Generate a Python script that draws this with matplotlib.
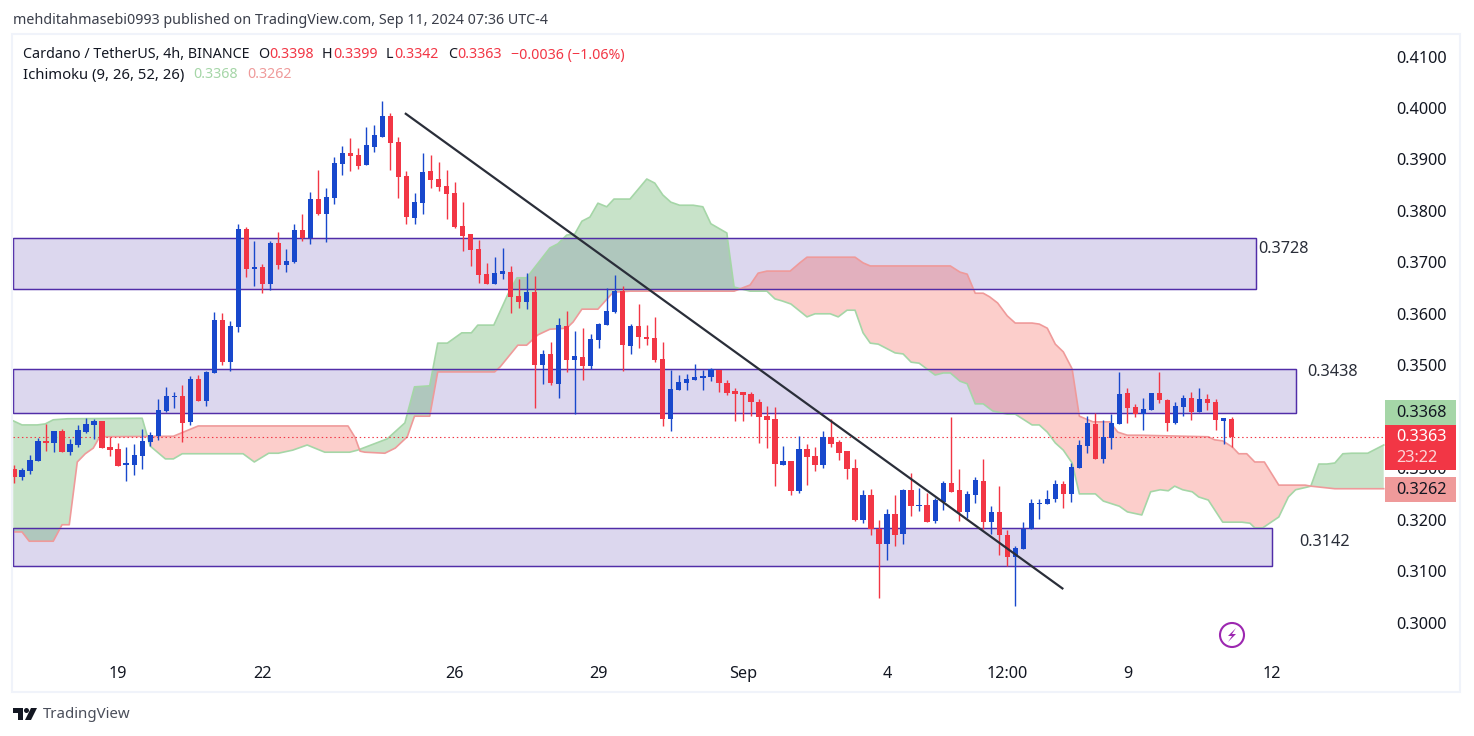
import numpy as np
import matplotlib
matplotlib.use('Agg')
import matplotlib.pyplot as plt
from matplotlib.patches import Polygon, Rectangle, Circle

plt.rcParams['font.family'] = ['Noto Sans', 'DejaVu Sans']

# 4h candles
opens = [.3298, .3283, .3295, .3314, .3353, .3349, .3372, .3331, .3345, .3370,
         .3384, .3392, .3341, .3337, .3306, .3306, .3324, .3351, .3362, .3411,
         .3438, .3440, .3390, .3473, .3431, .3485, .3588, .3506, .3574, .3765,
         .3687, .3691, .3658, .3738, .3695, .3701, .3763, .3747, .3823, .3794,
         .3825, .3891, .3912, .3909, .3889, .3924, .3944, .3984, .3934, .3868,
         .3786, .3815, .3878, .3862, .3848, .3835, .3771, .3755, .3726, .3677,
         .3658, .3677, .3681, .3635, .3623, .3642, .3500, .3522, .3464, .3576,
         .3510, .3516, .3498, .3549, .3578, .3603, .3644, .3537, .3576, .3555,
         .3553, .3512, .3395, .3452, .3466, .3471, .3475, .3477, .3491, .3466,
         .3450, .3448, .3444, .3429, .3401, .3396, .3306, .3314, .3256, .3337,
         .3324, .3306, .3360, .3351, .3333, .3300, .3199, .3248, .3182, .3153,
         .3211, .3172, .3258, .3226, .3228, .3197, .3234, .3271, .3258, .3215,
         .3248, .3275, .3195, .3215, .3170, .3127, .3143, .3182, .3230, .3230,
         .3240, .3269, .3250, .3300, .3343, .3386, .3318, .3359, .3386, .3446,
         .3419, .3405, .3413, .3446, .3432, .3388, .3419, .3436, .3409, .3434,
         .3429, .3392, .3396]
closes = [.3283, .3296, .3316, .3353, .3349, .3372, .3331, .3347, .3374, .3386,
          .3392, .3339, .3335, .3304, .3310, .3326, .3353, .3364, .3413, .3440,
          .3440, .3388, .3473, .3431, .3487, .3588, .3506, .3576, .3765, .3687,
          .3691, .3658, .3738, .3695, .3703, .3763, .3747, .3823, .3794, .3827,
          .3893, .3912, .3907, .3887, .3928, .3948, .3984, .3932, .3866, .3788,
          .3817, .3876, .3860, .3846, .3833, .3769, .3751, .3724, .3675, .3658,
          .3679, .3683, .3633, .3623, .3642, .3500, .3522, .3465, .3578, .3510,
          .3518, .3498, .3551, .3580, .3605, .3644, .3539, .3576, .3555, .3551,
          .3510, .3395, .3454, .3467, .3473, .3477, .3479, .3493, .3466, .3446,
          .3444, .3442, .3429, .3399, .3394, .3308, .3314, .3256, .3337, .3322,
          .3306, .3360, .3347, .3329, .3298, .3199, .3248, .3182, .3153, .3211,
          .3170, .3258, .3226, .3228, .3195, .3238, .3271, .3254, .3215, .3250,
          .3277, .3195, .3215, .3170, .3127, .3145, .3182, .3232, .3232, .3240,
          .3269, .3250, .3302, .3345, .3388, .3318, .3360, .3388, .3444, .3417,
          .3405, .3415, .3446, .3432, .3388, .3421, .3436, .3409, .3434, .3427,
          .3394, .3397, .3360]
highs = [.3306, .3300, .3326, .3359, .3386, .3372, .3376, .3357, .3384, .3397,
         .3395, .3392, .3361, .3349, .3341, .3347, .3376, .3370, .3434, .3458,
         .3448, .3462, .3479, .3481, .3489, .3603, .3602, .3586, .3774, .3769,
         .3741, .3697, .3741, .3759, .3726, .3774, .3794, .3837, .3880, .3845,
         .3905, .3926, .3942, .3922, .3963, .3967, .4014, .3990, .3944, .3878,
         .3835, .3912, .3909, .3895, .3880, .3856, .3817, .3755, .3743, .3699,
         .3710, .3728, .3693, .3668, .3679, .3673, .3530, .3545, .3592, .3605,
         .3567, .3572, .3561, .3582, .3650, .3675, .3654, .3580, .3619, .3578,
         .3594, .3545, .3491, .3481, .3483, .3502, .3491, .3495, .3491, .3471,
         .3456, .3448, .3448, .3434, .3421, .3419, .3343, .3314, .3362, .3347,
         .3341, .3372, .3396, .3355, .3333, .3318, .3258, .3259, .3199, .3221,
         .3248, .3259, .3291, .3261, .3252, .3242, .3275, .3399, .3298, .3256,
         .3283, .3318, .3226, .3265, .3180, .3149, .3195, .3240, .3240, .3258,
         .3277, .3275, .3310, .3355, .3401, .3407, .3394, .3405, .3487, .3456,
         .3425, .3436, .3446, .3487, .3434, .3429, .3442, .3448, .3456, .3444,
         .3434, .3397, .3399]
lows = [.3272, .3277, .3289, .3314, .3333, .3331, .3331, .3326, .3341, .3368,
        .3357, .3339, .3324, .3304, .3275, .3287, .3298, .3343, .3355, .3409,
        .3417, .3351, .3384, .3431, .3421, .3485, .3500, .3489, .3565, .3672,
        .3654, .3640, .3646, .3687, .3681, .3699, .3741, .3736, .3792, .3740,
        .3813, .3870, .3878, .3881, .3889, .3915, .3944, .3880, .3825, .3774,
        .3774, .3794, .3845, .3839, .3784, .3767, .3722, .3693, .3660, .3658,
        .3658, .3668, .3602, .3611, .3609, .3417, .3464, .3462, .3436, .3487,
        .3405, .3471, .3493, .3534, .3578, .3602, .3489, .3522, .3534, .3539,
        .3506, .3382, .3372, .3452, .3452, .3471, .3452, .3469, .3448, .3442,
        .3392, .3392, .3401, .3349, .3339, .3265, .3306, .3248, .3252, .3267,
        .3294, .3300, .3341, .3316, .3279, .3197, .3193, .3170, .3048, .3121,
        .3149, .3153, .3207, .3217, .3195, .3193, .3219, .3254, .3197, .3203,
        .3232, .3182, .3172, .3131, .3110, .3032, .3143, .3182, .3201, .3230,
        .3234, .3223, .3234, .3300, .3329, .3318, .3310, .3337, .3386, .3388,
        .3399, .3374, .3413, .3427, .3372, .3386, .3401, .3394, .3409, .3413,
        .3374, .3347, .3342]

# ichimoku span A, vertices of the line (bar index, price)
span_a_idx = [-0.1, 1.0, 2.9, 3.9, 4.9, 6.7, 16.0, 17.0, 18.9, 19.9, 21.0, 28.6, 30.0, 31.8, 33.0, 34.8, 36.6,
              38.8, 41.9, 42.9, 46.6, 48.8, 50.0, 51.9, 52.9, 54.1, 55.9, 57.1, 57.9, 59.9, 61.9, 62.8,
              64.0, 66.9, 67.9, 69.0, 70.0, 70.9, 71.9, 72.9, 74.0, 74.9, 76.9, 79.0, 80.0, 81.0, 82.0,
              83.1, 84.8, 86.0, 87.0, 89.0, 89.1, 89.9, 91.9, 94.0, 95.0, 95.9, 97.0, 99.0, 100.0, 101.9,
              102.9, 104.0, 105.0, 106.0, 106.9, 107.9, 110.0, 111.0, 112.0, 113.0, 115.0, 116.0, 116.9,
              118.1, 119.0, 120.0, 121.0, 122.2, 124.0, 125.0, 127.1, 128.0, 129.0, 130.0, 131.0, 132.1,
              133.0, 135.0, 136.0, 138.0, 139.0, 140.8, 141.9, 143.1, 144.1, 144.9, 145.9, 147.1, 147.9,
              149.1, 150.9, 153.3, 154.3, 154.9, 155.9, 157.9, 159.1, 160.0, 161.4, 161.9, 162.9, 163.9,
              164.9, 165.9, 167.0, 169.0, 171.0]
span_a = [.3392, .3384, .3384, .3386, .3394, .3396, .3397, .3343, .3318, .3318, .3328, .3328, .3312, .3329, .3329, .3335, .3345,
          .3331, .3331, .3335, .3357, .3388, .3458, .3460, .3543, .3543, .3563, .3563, .3578, .3578, .3646, .3670,
          .3670, .3728, .3736, .3753, .3755, .3780, .3788, .3815, .3808, .3823, .3823, .3862, .3854, .3831, .3817,
          .3811, .3811, .3808, .3775, .3757, .3743, .3652, .3644, .3644, .3629, .3625, .3619, .3594, .3600, .3600,
          .3594, .3607, .3607, .3563, .3543, .3541, .3524, .3522, .3506, .3504, .3481, .3485, .3485,
          .3469, .3464, .3425, .3425, .3411, .3405, .3405, .3384, .3384, .3370, .3349, .3335, .3310,
          .3250, .3250, .3236, .3226, .3215, .3209, .3254, .3258, .3256, .3265, .3258, .3254, .3244,
          .3238, .3195, .3195, .3193, .3184, .3184, .3205, .3244, .3258, .3263, .3265, .3308, .3308,
          .3310, .3328, .3329, .3329, .3345]

# span B
span_b_idx = [-0.1, 1.0, 1.9, 4.9, 6.0, 6.9, 7.9, 8.9, 9.9, 10.7, 19.9, 23.0, 41.7, 42.6, 43.2, 43.8, 46.3, 47.6, 49.1,
              50.0, 51.9, 52.9, 60.0, 60.7, 62.9, 64.0, 65.4, 66.9, 69.0, 69.8, 70.9, 72.9, 74.8, 76.9, 89.9,
              91.9, 92.9, 94.0, 96.9, 98.1, 99.0, 105.0, 106.0, 106.9, 116.9, 118.1, 119.0, 120.0, 121.0,
              121.8, 122.8, 124.0, 125.0, 127.1, 128.0, 129.0, 130.0, 131.0, 132.1, 133.0, 134.7, 136.8,
              137.8, 139.0, 140.6, 149.1, 149.9, 150.9, 152.1, 152.9, 153.9, 154.9, 156.1, 157.9, 161.2,
              161.9, 164.9, 171.0]
span_b = [.3176, .3176, .3158, .3158, .3190, .3190, .3312, .3328, .3339, .3361, .3362, .3382, .3382, .3359, .3333, .3331, .3329, .3339, .3361,
          .3401, .3401, .3487, .3487, .3497, .3539, .3539, .3559, .3570, .3572, .3584, .3609, .3609, .3642, .3644, .3644,
          .3656, .3679, .3683, .3683, .3699, .3710, .3710, .3699, .3693, .3693, .3681, .3677, .3640, .3640,
          .3633, .3621, .3596, .3582, .3582, .3580, .3572, .3541, .3526, .3493, .3401, .3390, .3390,
          .3370, .3364, .3364, .3361, .3355, .3353, .3341, .3328, .3328, .3312, .3312, .3267, .3267,
          .3265, .3260, .3260]

# support / resistance boxes: low, high, last bar, label
zone_lows = [.3649, .3408, .3109]
zone_highs = [.3747, .3492, .3184]
zone_ends = [155.0, 160.0, 157.0]
zone_labels = ['0.3728', '0.3438', '0.3142']

trend_idx = [48.8, 131.0]
trend_price = [.3990, .3065]

day_ticks = [13, 31, 55, 73, 91, 109, 124, 139, 157]
day_labels = ['19', '22', '26', '29', 'Sep', '4', '12:00', '9', '12']
# 0.34 sits behind the price tags
price_ticks = [.30, .31, .32, .33, .35, .36, .37, .38, .39, .40, .41]

UP = '#1848cc'
DOWN = '#f23645'
TEXT = '#131722'

fig = plt.figure(figsize=(14.74, 7.36), dpi=100)
W, H = 1474, 736
# chart pane, bar 0 is at x=14 and 0.40 at y=108 in the image
ax = fig.add_axes([13 / W, (H - 691) / H, 1447 / W, 656 / H])
ax.set_xlim((13 - 14) / 8.01, (1460 - 14) / 8.01)
ax.set_ylim(0.4 - (691 - 108) / 5145, 0.4 + (108 - 35) / 5145)

# zones
for lo, hi, end in zip(zone_lows, zone_highs, zone_ends):
    ax.add_patch(Rectangle((-0.1, lo), end + 0.1, hi - lo, facecolor='#dcd7ee',
                           edgecolor='#512da8', lw=0.9, zorder=1))

# cloud, over the zones
grid = np.union1d(span_a_idx, span_b_idx)
a = np.interp(grid, span_a_idx, span_a)
b = np.interp(grid, span_b_idx, span_b)
ax.fill_between(grid, a, b, where=a >= b, interpolate=True, color='#43a047', alpha=0.29, lw=0, zorder=2)
ax.fill_between(grid, a, b, where=a <= b, interpolate=True, color='#f44336', alpha=0.26, lw=0, zorder=2)
ax.plot(span_a_idx, span_a, color='#a5d6a7', lw=1.2, zorder=2.2)
ax.plot(span_b_idx, span_b, color='#ef9a9a', lw=1.2, zorder=2.2)

# zone borders stay visible on top of the cloud
for lo, hi, end in zip(zone_lows, zone_highs, zone_ends):
    ax.add_patch(Rectangle((-0.1, lo), end + 0.1, hi - lo, fill=False,
                           edgecolor='#512da8', lw=0.9, zorder=2.3))

# candles
idx = np.arange(len(opens))
o = np.array(opens)
c = np.array(closes)
up = c >= o
colors = np.where(up, UP, DOWN)
ax.vlines(idx, lows, highs, colors=colors, lw=1.0, zorder=3)
ax.bar(idx, np.abs(c - o), bottom=np.minimum(o, c), width=0.66, color=colors, lw=0, zorder=3.5)

# last price line
ax.plot([-0.1, 171], [closes[-1], closes[-1]], color=DOWN, lw=0.8, ls=(0, (1.3, 2.5)), zorder=2.5)

ax.plot(trend_idx, trend_price, color='#2a2e39', lw=1.6, zorder=4, solid_capstyle='butt')

for s in ax.spines.values():
    s.set_visible(False)
ax.set_xticks(day_ticks)
ax.set_xticklabels(day_labels)
ax.yaxis.tick_right()
ax.set_yticks(price_ticks)
ax.set_yticklabels(['%.4f' % p for p in price_ticks])
ax.tick_params(axis='x', length=0, pad=-18, labelsize=11.7, labelcolor=TEXT)
ax.tick_params(axis='y', length=0, pad=-46, labelsize=11.7, labelcolor=TEXT)

# overlay in image pixels for frame, labels and tags
ov = fig.add_axes([0, 0, 1, 1], zorder=5)
ov.set_xlim(0, W)
ov.set_ylim(H, 0)
ov.axis('off')
ov.add_patch(Rectangle((12.5, 34), 1448, 658, fill=False, edgecolor='#f0f3fa', lw=1.5))

ov.text(13, 20.5, 'mehditahmasebi0993 published on TradingView.com, Sep 11, 2024 07:36 UTC-4',
        fontsize=10.25, color='#3a3e4a', va='center')

def label(x, y, s, col=TEXT, size=10.25, weight='normal'):
    ov.text(x, y, s, color=col, fontsize=size, va='center', fontweight=weight)

label(23, 55, 'Cardano / TetherUS, 4h, BINANCE')
label(258, 55, 'O')
label(269, 55, '0.3398', DOWN)
label(322, 55, 'H')
label(333, 55, '0.3399', DOWN)
label(386, 55, 'L')
label(394, 55, '0.3342', DOWN)
label(448, 55, 'C')
label(457, 55, '0.3363', DOWN)
label(511, 55, '\u22120.0036 (\u22121.06%)', DOWN)
label(23, 75, 'Ichimoku (9, 26, 52, 26)', TEXT, 10.7)
label(193, 75, '0.3368', '#a5d6a7')
label(247, 75, '0.3262', '#ef9a9a')

for lab, x, y in zip(zone_labels, [1258, 1307, 1299], [249, 372, 542]):
    label(x, y, lab, '#2a2e39', 11.7)

# tags on the price scale
ov.add_patch(Rectangle((1385, 400), 71, 25, color='#a5d6a7', lw=0))
ov.add_patch(Rectangle((1385, 477), 71, 25, color='#ef9a9a', lw=0))
ov.add_patch(Rectangle((1385, 425), 71, 45, color=DOWN, lw=0))
label(1396, 413, '0.3368', TEXT, 11.7, 'medium')
label(1396, 490, '0.3262', TEXT, 11.7, 'medium')
label(1396, 437, '0.3363', 'white', 11.7, 'medium')
label(1396, 458, '23:22', '#fcd5d8', 11.7, 'medium')

# purple flash icon
ov.add_patch(Circle((1232, 635), 12, fill=False, edgecolor='#9c27b0', lw=1.5))
ov.add_patch(Polygon([(1236, 628), (1228, 636), (1232, 636), (1228, 642), (1236, 634), (1232, 634)],
                     color='#9c27b0', lw=0))

# TradingView logo
ov.add_patch(Polygon([(13, 708), (23, 708), (23, 720), (18, 720), (18, 713), (13, 713)], color=TEXT, lw=0))
ov.add_patch(Circle((26.5, 710.5), 2.5, color=TEXT, lw=0))
ov.add_patch(Polygon([(31, 708), (37, 708), (31, 720), (25, 720)], color=TEXT, lw=0))
label(43, 715, 'TradingView', '#4a4e5a', 10.8)

fig.savefig('out.png', dpi=100, facecolor='white')
